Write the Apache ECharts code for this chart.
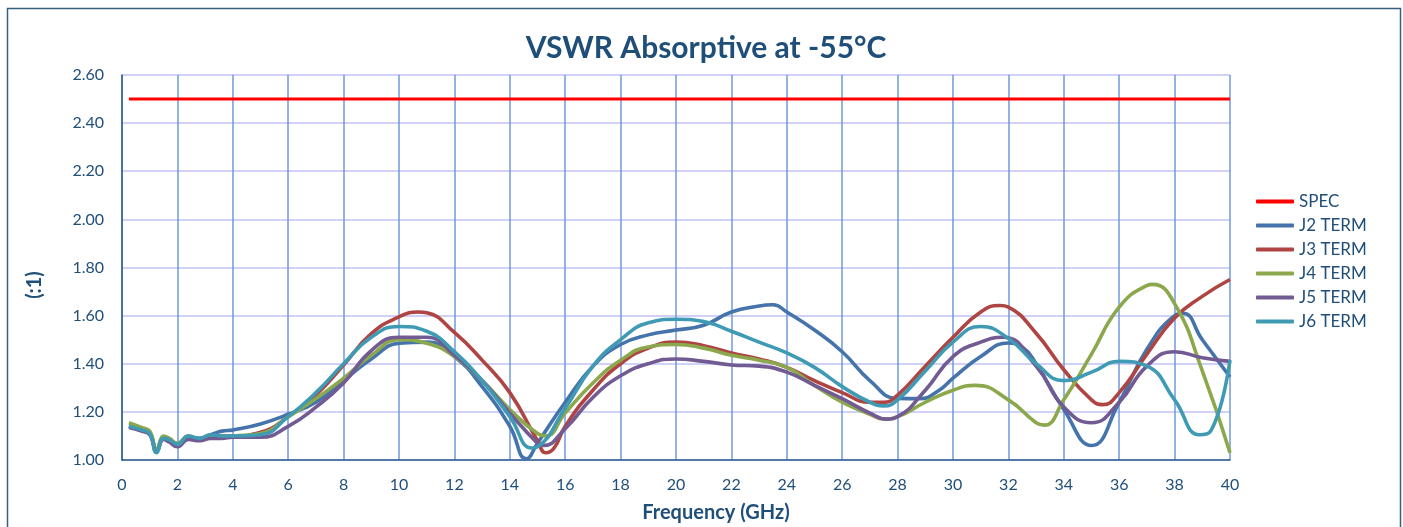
<!DOCTYPE html>
<html>
<head>
<meta charset="utf-8">
<script src="https://cdn.jsdelivr.net/npm/echarts@6/dist/echarts.min.js"></script>
<style>
html,body{margin:0;padding:0;background:#fff;}
#chart{width:1403px;height:527px;}
</style>
</head>
<body>
<div id="chart"></div>
<script>
// ---- data ----
const title = 'VSWR Absorptive at -55°C';
const xAxisName = 'Frequency (GHz)';
const yAxisName = '(:1)';
const seriesNames = ['SPEC', 'J2 TERM', 'J3 TERM', 'J4 TERM', 'J5 TERM', 'J6 TERM'];

const specFreq = [0.25, 40];
const specVswr = [2.5, 2.5];

const lowFreq = [0.25, 0.7, 1.0, 1.25, 1.5, 1.7, 2.0, 2.4, 2.8, 3.2, 3.6, 4, 5];

const j2Freq = lowFreq.concat([6, 7, 8, 9, 10, 11, 12, 13, 14, 14.6, 15, 16, 17, 18, 19, 20, 21, 22, 23, 23.5, 24, 25, 26, 27, 28, 28.8, 29.5, 30, 31, 32, 32.5, 33, 34, 35, 36, 37, 38, 38.3, 39, 40]);
const j2Vswr = [1.14, 1.125, 1.11, 1.035, 1.09, 1.085, 1.065, 1.095, 1.09, 1.105, 1.12, 1.125, 1.15,
  1.19, 1.24, 1.33, 1.42, 1.485, 1.49, 1.43, 1.305, 1.14, 1.005, 1.07, 1.24, 1.39, 1.48, 1.52, 1.54, 1.56, 1.615, 1.64, 1.645, 1.615, 1.54, 1.45, 1.33, 1.256, 1.255, 1.29, 1.34, 1.43, 1.486, 1.47, 1.40, 1.21, 1.06, 1.24, 1.46, 1.60, 1.61, 1.50, 1.345];

const j3Freq = lowFreq.concat([6, 7, 8, 9, 10, 10.7, 11, 12, 13, 14, 15, 15.3, 15.6, 16, 17, 18, 19, 20, 21, 22, 23, 24, 25, 26, 27, 27.5, 28, 29, 30, 31, 31.7, 32, 33, 34, 35, 35.4, 36, 37, 38, 39, 40]);
const j3Vswr = [1.14, 1.125, 1.11, 1.04, 1.095, 1.09, 1.065, 1.095, 1.085, 1.10, 1.10, 1.10, 1.115,
  1.18, 1.27, 1.395, 1.525, 1.595, 1.615, 1.612, 1.53, 1.415, 1.28, 1.08, 1.03, 1.05, 1.14, 1.29, 1.40, 1.465, 1.49, 1.475, 1.445, 1.42, 1.385, 1.33, 1.28, 1.24, 1.24, 1.27, 1.39, 1.51, 1.615, 1.642, 1.635, 1.527, 1.375, 1.25, 1.23, 1.28, 1.44, 1.59, 1.68, 1.75];

const j4Freq = lowFreq.concat([6, 7, 8, 9, 10, 11, 12, 13, 14, 15, 15.3, 16, 17, 18, 19, 20, 21, 22, 23, 24, 25, 26, 27, 27.5, 28, 29, 30, 30.8, 32, 33, 33.3, 34, 35, 36, 37, 37.2, 38, 39, 40]);
const j4Vswr = [1.155, 1.135, 1.12, 1.045, 1.10, 1.09, 1.07, 1.10, 1.085, 1.10, 1.095, 1.10, 1.11,
  1.18, 1.255, 1.34, 1.435, 1.50, 1.485, 1.43, 1.33, 1.21, 1.11, 1.10, 1.195, 1.32, 1.415, 1.47, 1.48, 1.465, 1.435, 1.415, 1.385, 1.31, 1.24, 1.19, 1.17, 1.18, 1.24, 1.29, 1.31, 1.25, 1.155, 1.145, 1.25, 1.44, 1.635, 1.725, 1.73, 1.65, 1.37, 1.03];

const j5Freq = lowFreq.concat([6, 7, 8, 9, 10, 11, 12, 13, 14, 15, 15.2, 16, 17, 18, 19, 20, 21, 22, 23, 24, 25, 26, 27, 27.6, 28, 29, 30, 31, 31.8, 33, 34, 35, 36, 37, 38, 39, 40]);
const j5Vswr = [1.135, 1.12, 1.105, 1.035, 1.085, 1.075, 1.055, 1.085, 1.08, 1.09, 1.09, 1.095, 1.095,
  1.14, 1.22, 1.32, 1.455, 1.51, 1.51, 1.435, 1.33, 1.195, 1.07, 1.06, 1.13, 1.26, 1.35, 1.40, 1.42, 1.41, 1.395, 1.39, 1.365, 1.31, 1.255, 1.195, 1.17, 1.18, 1.29, 1.43, 1.49, 1.51, 1.39, 1.22, 1.155, 1.24, 1.39, 1.45, 1.425, 1.41];

const j6Freq = lowFreq.concat([6, 7, 8, 9, 10, 11, 12, 13, 14, 14.8, 15, 16, 17, 18, 19, 20, 21, 22, 23, 24, 25, 26, 27, 27.5, 28, 29, 30, 31, 32, 33, 34, 35, 36, 37, 38, 38.9, 39.3, 40]);
const j6Vswr = [1.14, 1.125, 1.11, 1.03, 1.09, 1.085, 1.065, 1.10, 1.09, 1.105, 1.10, 1.10, 1.105,
  1.18, 1.28, 1.40, 1.51, 1.555, 1.535, 1.45, 1.33, 1.18, 1.05, 1.055, 1.215, 1.39, 1.50, 1.57, 1.585, 1.575, 1.535, 1.49, 1.445, 1.385, 1.305, 1.24, 1.225, 1.25, 1.37, 1.49, 1.555, 1.505, 1.40, 1.33, 1.365, 1.41, 1.39, 1.25, 1.105, 1.12, 1.415];

const yTicks = ['1.00', '1.20', '1.40', '1.60', '1.80', '2.00', '2.20', '2.40', '2.60'];

// ---- build ----
const colors = ['#ff0000', '#4573ac', '#ae4542', '#8ba84c', '#725a93', '#3f9ab4'];
const pairs = (xs, ys) => xs.map((x, i) => [x, ys[i]]);
const seriesData = [
  pairs(specFreq, specVswr),
  pairs(j2Freq, j2Vswr),
  pairs(j3Freq, j3Vswr),
  pairs(j4Freq, j4Vswr),
  pairs(j5Freq, j5Vswr),
  pairs(j6Freq, j6Vswr)
];
const txt = '#1f4e79';
const font = 'Lato, "Open Sans", sans-serif';

const chart = echarts.init(document.getElementById('chart'), null, {renderer: 'canvas'});
chart.setOption({
  animation: false,
  backgroundColor: '#fff',
  textStyle: {fontFamily: font},
  grid: {left: 122, right: 173, top: 75, bottom: 67, containLabel: false},
  xAxis: {
    type: 'value', min: 0, max: 40, interval: 2,
    axisLine: {show: true, onZero: false, lineStyle: {color: '#2a5d8c', width: 1.5}},
    axisTick: {show: false},
    axisLabel: {color: txt, fontSize: 16, fontFamily: font, margin: 17},
    splitLine: {show: true, lineStyle: {color: '#7099dc', width: 1.5}}
  },
  yAxis: {
    type: 'value', min: 1, max: 2.6, interval: 0.2,
    axisLine: {show: true, lineStyle: {color: '#2a5d8c', width: 1.5}},
    axisTick: {show: false},
    axisLabel: {color: txt, fontSize: 16, fontFamily: font, margin: 18,
      formatter: (v) => yTicks[Math.round((v - 1) / 0.2)] || v.toFixed(2)},
    splitLine: {show: true, lineStyle: {color: '#c2c2f4', width: 1.5}}
  },
  legend: {
    orient: 'vertical', left: 1256, top: 193, padding: 0,
    itemWidth: 38, itemHeight: 4, itemGap: 7, icon: 'roundRect',
    textStyle: {color: txt, fontSize: 17, fontFamily: font, lineHeight: 17},
    data: seriesNames
  },
  series: seriesNames.map((n, i) => ({
    name: n, type: 'line', data: seriesData[i],
    showSymbol: false, symbol: 'none',
    smooth: i === 0 ? false : 0.5,
    lineStyle: {color: colors[i], width: i === 0 ? 3 : 3.6},
    itemStyle: {color: colors[i]},
    z: 2 + i
  })),
  graphic: [
    {type: 'rect', left: 5, top: 6, z: -1, silent: true,
      shape: {x: 0, y: 0, width: 1393, height: 530},
      style: {fill: 'none', stroke: '#355f80', lineWidth: 1.5}},
    {type: 'text', x: 706, y: 48, style: {text: title, fill: txt, font: 'bold 30px ' + font, textAlign: 'center', textVerticalAlign: 'middle'}},
    {type: 'text', x: 716, y: 513, style: {text: xAxisName, fill: txt, font: 'bold 20px ' + font, textAlign: 'center', textVerticalAlign: 'middle'}},
    {type: 'text', x: 35, y: 285, rotation: Math.PI / 2, style: {text: yAxisName, fill: txt, font: 'bold 20px ' + font, textAlign: 'center', textVerticalAlign: 'middle'}}
  ]
});
</script>
</body>
</html>
